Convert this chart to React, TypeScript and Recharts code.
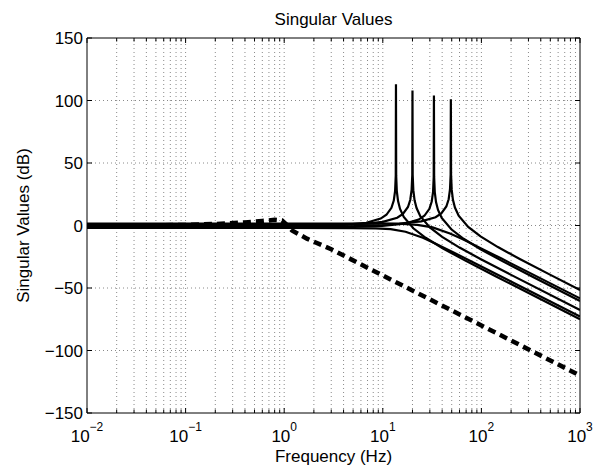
import React from 'react';
import { LineChart, Line, XAxis, YAxis, ReferenceLine } from 'recharts';

const FONT = '"Liberation Sans", Arial, Helvetica, sans-serif';

// axis ticks
const decadeTicks = [0.01, 0.1, 1, 10, 100, 1000];
const decadeExponents = ['\u22122', '\u22121', '0', '1', '2', '3'];
const minorMultipliers = [2, 3, 4, 5, 6, 7, 8, 9];
const yTicks = [-150, -100, -50, 0, 50, 100, 150];
const yGrid = [-100, -50, 0, 50, 100];

// singular value curves (frequency in Hz, magnitude in dB)
const fA = [0.01, 1, 4.08, 6.8, 9.52, 10.88, 12.24, 12.92, 13.33, 13.53, 13.6, 13.67, 13.87, 14.28, 14.96, 16.32, 20.4, 27.2, 40.8, 68, 136, 1000];
const vA = [-0.3, -0.3, 0.5, 2.2, 5.55, 8.57, 14.12, 19.92, 27.75, 39.72, 113, 39.68, 27.57, 19.49, 13.26, 6.83, -2.24, -9.84, -18.36, -27.9, -40.21, -74.97];

const fB = [0.01, 1, 6, 10, 14, 16, 18, 19, 19.6, 19.9, 20, 20.1, 20.4, 21, 22, 24, 30, 40, 60, 100, 200, 1000];
const vB = [0.4, 0.4, 1.22, 2.9, 6.25, 9.27, 14.82, 20.62, 28.45, 40.42, 108, 40.38, 28.27, 20.19, 13.96, 7.53, -1.54, -9.14, -17.66, -27.2, -39.51, -67.56];

const fC = [0.01, 1, 9.9, 16.5, 23.1, 26.4, 29.7, 31.35, 32.34, 32.84, 33, 33.17, 33.66, 34.65, 36.3, 39.6, 49.5, 66, 99, 165, 330, 1000];
const vC = [-1.1, -1.1, -0.28, 1.4, 4.75, 7.77, 13.32, 19.12, 26.95, 38.92, 104, 38.88, 26.77, 18.69, 12.46, 6.03, -3.04, -10.64, -19.16, -28.7, -41.01, -60.35];

const fD = [0.01, 1, 14.7, 24.5, 34.3, 39.2, 44.1, 46.55, 48.02, 48.76, 49, 49.25, 49.98, 51.45, 53.9, 58.8, 73.5, 98, 147, 245, 490, 1000];
const vD = [0.8, 0.8, 1.62, 3.3, 6.65, 9.67, 15.22, 21.02, 28.85, 40.82, 101, 40.78, 28.67, 20.59, 14.36, 7.93, -1.14, -8.74, -17.26, -26.8, -39.11, -51.57];

const fE = [0.01, 1, 5, 8.5, 12, 17, 25.5, 34, 51, 85, 170, 1000];
const vE = [-2, -2, -2.03, -2.26, -2.96, -5.01, -9.83, -14.3, -21.19, -29.97, -42, -72.8];

const fF = [0.01, 1, 10, 16, 22.4, 32, 48, 64, 96, 160, 320, 1000];
const vF = [1.5, 1.5, 1.46, 1.24, 0.56, -1.51, -6.33, -10.8, -17.69, -26.47, -38.5, -58.3];

// dashed curve
const fG = [0.01, 0.05, 0.1, 0.2, 0.4, 0.6, 0.8, 0.95, 1.05, 1.2, 1.7, 3, 10, 100, 1000];
const vG = [0, 0.2, 0.5, 1.2, 2.5, 3.6, 4.5, 4.0, 1.0, -4, -10.5, -19, -40, -80, -120];

const toPts = (f: number[], v: number[]) => f.map((x, i) => ({ f: x, v: v[i] }));

const solidSeries = [toPts(fA, vA), toPts(fB, vB), toPts(fC, vC), toPts(fD, vD), toPts(fE, vE), toPts(fF, vF)];
const dashedSeries = toPts(fG, vG);

const allXTicks: number[] = [];
decadeTicks.forEach((d, i) => {
  allXTicks.push(d);
  if (i < decadeTicks.length - 1) minorMultipliers.forEach((m) => allXTicks.push(+(d * m).toPrecision(6)));
});
const xGrid = allXTicks.filter((v) => v > 0.01 && v < 1000);

const isMajor = (v: number) => decadeTicks.findIndex((d) => Math.abs(d - v) / d < 1e-6);

const BottomTick = (props: any) => {
  const { x, y, payload } = props;
  const idx = isMajor(payload.value);
  return (
    <g>
      <line x1={x} x2={x} y1={y} y2={y - (idx >= 0 ? 5 : 3.5)} stroke="#000" strokeWidth={1} />
      {idx >= 0 && (
        <text x={x} y={y + 29} textAnchor="middle" fontSize={17} fontFamily={FONT} fill="#000">
          <tspan>10</tspan>
          <tspan dy={-11} fontSize={12}>{decadeExponents[idx]}</tspan>
        </text>
      )}
    </g>
  );
};

const TopTick = (props: any) => {
  const { x, y, payload } = props;
  const idx = isMajor(payload.value);
  return <line x1={x} x2={x} y1={y} y2={y + (idx >= 0 ? 5 : 3.5)} stroke="#000" strokeWidth={1} />;
};

const LeftTick = (props: any) => {
  const { x, y, payload } = props;
  const label = payload.value < 0 ? '\u2212' + Math.abs(payload.value) : String(payload.value);
  return (
    <g>
      <line x1={x} x2={x + 5} y1={y} y2={y} stroke="#000" strokeWidth={1} />
      <text x={x - 4} y={y} dy="0.36em" textAnchor="end" fontSize={17} fontFamily={FONT} fill="#000">
        {label}
      </text>
    </g>
  );
};

const RightTick = (props: any) => {
  const { x, y } = props;
  return <line x1={x} x2={x - 5} y1={y} y2={y} stroke="#000" strokeWidth={1} />;
};

export default function App() {
  return (
    <div style={{ position: 'absolute', left: 0, top: 0, width: 597, height: 469, background: '#fff' }}>
      <LineChart width={597} height={469} margin={{ top: 0, right: 0, bottom: 0, left: 0 }}>
        <XAxis
          dataKey="f"
          type="number"
          scale="log"
          domain={[0.01, 1000]}
          allowDataOverflow
          ticks={allXTicks}
          interval={0}
          tickSize={0}
          tickMargin={0}
          tickLine={false}
          tick={<BottomTick />}
          axisLine={{ stroke: '#000', strokeWidth: 1 }}
          height={56}
        />
        <XAxis
          xAxisId="top"
          orientation="top"
          dataKey="f"
          type="number"
          scale="log"
          domain={[0.01, 1000]}
          allowDataOverflow
          ticks={allXTicks}
          interval={0}
          tickSize={0}
          tickMargin={0}
          tickLine={false}
          tick={<TopTick />}
          axisLine={{ stroke: '#000', strokeWidth: 1 }}
          height={38}
        />
        <YAxis
          type="number"
          domain={[-150, 150]}
          ticks={yTicks}
          interval={0}
          allowDataOverflow
          tickSize={0}
          tickMargin={0}
          tickLine={false}
          tick={<LeftTick />}
          axisLine={{ stroke: '#000', strokeWidth: 1 }}
          width={87}
        />
        <YAxis
          yAxisId="right"
          orientation="right"
          type="number"
          domain={[-150, 150]}
          ticks={yTicks}
          interval={0}
          allowDataOverflow
          tickSize={0}
          tickMargin={0}
          tickLine={false}
          tick={<RightTick />}
          axisLine={{ stroke: '#000', strokeWidth: 1 }}
          width={17}
        />
        {xGrid.map((v) => (
          <ReferenceLine key={'gx' + v} x={v} stroke="#8a8a8a" strokeWidth={1} strokeDasharray="1 3" />
        ))}
        {yGrid.map((v) => (
          <ReferenceLine key={'gy' + v} y={v} stroke="#8a8a8a" strokeWidth={1} strokeDasharray="1 3" />
        ))}
        <Line
          data={dashedSeries}
          dataKey="v"
          type="linear"
          stroke="#000"
          strokeWidth={4.5}
          strokeDasharray="8 5"
          dot={false}
          activeDot={false}
          isAnimationActive={false}
        />
        {solidSeries.map((s, i) => (
          <Line
            key={'s' + i}
            data={s}
            dataKey="v"
            type="linear"
            stroke="#000"
            strokeWidth={2.2}
            dot={false}
            activeDot={false}
            isAnimationActive={false}
          />
        ))}
      </LineChart>
      <svg width={597} height={469} style={{ position: 'absolute', left: 0, top: 0, pointerEvents: 'none' }}>
        <text x={333.5} y={25} textAnchor="middle" fontSize={17} fontFamily={FONT} fill="#000">
          Singular Values
        </text>
        <text x={333.5} y={462} textAnchor="middle" fontSize={17} fontFamily={FONT} fill="#000">
          Frequency (Hz)
        </text>
        <text x={29} y={225.5} transform="rotate(-90 29 225.5)" textAnchor="middle" fontSize={17} fontFamily={FONT} fill="#000">
          Singular Values (dB)
        </text>
      </svg>
    </div>
  );
}
